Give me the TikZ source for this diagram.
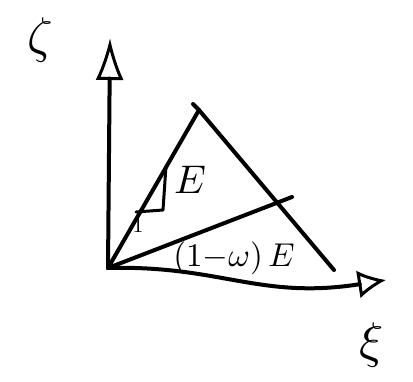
\documentclass[tikz,border=0pt]{standalone}
\usetikzlibrary{arrows.meta}

\newcommand{\hand}[2]{\scalebox{#1}{#2}}

\begin{document}
\begin{tikzpicture}[
    x=1pt, y=-1pt,
    pen/.style={draw, line width=4pt, line cap=round, line join=round},
    axis/.style={pen, -{Latex[open, length=#1, width=28pt, line width=3pt]}},
    lbl/.style={inner sep=0pt}
]
\useasboundingbox (0,0) rectangle (413,381);

% -- corner points --
\coordinate (O) at (108,268);
\coordinate (zend) at (110,38);
\coordinate (xend) at (386,280);
\coordinate (A) at (199,110);
\coordinate (B) at (334,270);
\coordinate (C) at (292,197);

% -- axes --
\draw[axis=42pt] (O) -- (zend);
\draw[axis=28pt] (O) .. controls (220,265) and (260,300) .. (xend);

\node[lbl] (zeta) at (40,40) {\hand{5}{$\zeta$}};
\node[lbl] (xi) at (372,345) {\hand{5}{$\xi$}};

% -- triangle --
\draw[pen] (O) -- (A);
\draw[pen] (193,104) -- (A) -- (B);
\draw[pen] (O) -- (C);

% -- labels --
\draw[pen, line width=3pt] (136,212) -- (163,210) -- (166,166);
\node[lbl] (one) at (138,225) {\hand{2.2}{1}};
\node[lbl] (upperE) at (190,180) {\hand{4}{$E$}};
\node[lbl] (lowerE) at (234,258) {\hand{3.3}{$(1{-}\omega)\,E$}};

\end{tikzpicture}
\end{document}
